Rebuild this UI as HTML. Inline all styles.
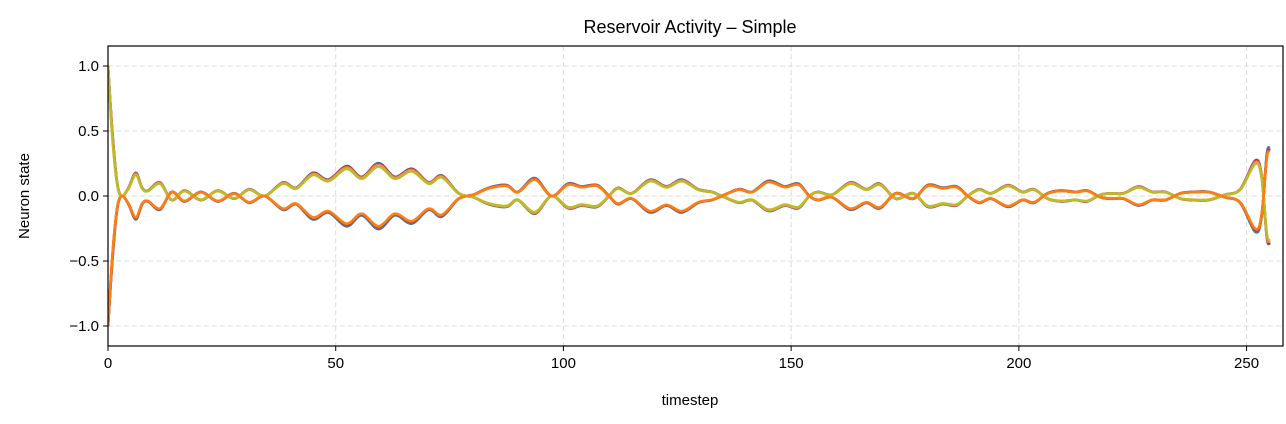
<!DOCTYPE html>
<html><head><meta charset="utf-8"><style>
html,body{margin:0;padding:0;background:#fff;}
svg{display:block;font-family:"Liberation Sans","DejaVu Sans",sans-serif;}
</style></head><body>
<svg id="chart" width="1286" height="424" viewBox="0 0 1286 424" xmlns="http://www.w3.org/2000/svg">
<text x="690" y="33" text-anchor="middle" font-size="18" fill="#000">Reservoir Activity – Simple</text>
<text x="690" y="405" text-anchor="middle" font-size="15" fill="#000">timestep</text>
<text transform="translate(29,196) rotate(-90)" text-anchor="middle" font-size="15" fill="#000">Neuron state</text>
<g id="grid"></g>
<g id="ticks"></g>
<defs><clipPath id="clip"><rect x="108" y="46" width="1175" height="300"/></clipPath></defs>
<g id="series" clip-path="url(#clip)"></g>
<rect x="108" y="46" width="1175" height="300" fill="none" stroke="#000" stroke-width="1.2"/>
</svg>
<script>
const times = [0,1,2,3,4.5,6.1,7.5,8.8,11.4,14,16.8,20.4,24.1,27.7,31,34.4,38.4,41.3,45,48.4,52.4,55.7,59.4,63,66.7,70.4,73.3,77,80.3,83.6,87.5,90,93.7,97.4,101,104,107.4,110,112,115,119,122.6,126,129.6,132.6,134.8,138.5,141.4,145,148.6,151.6,154,156,159,163,166.5,169.5,173,176.8,180,183.3,186.3,188.8,191.3,193.9,197.6,200.8,203.3,206.3,209.2,212.5,215,218,220.5,223,226.3,229.3,232.2,235.5,238.4,241.7,245.3,248.6,251.9,253.3,254.4,255];
const signal = [1.0,0.45,0.1,0.0,0.06,0.17,0.06,0.04,0.1,-0.03,0.04,-0.03,0.04,-0.02,0.05,0.0,0.1,0.06,0.17,0.12,0.22,0.14,0.24,0.14,0.2,0.1,0.15,0.02,-0.01,-0.06,-0.08,-0.03,-0.13,0.0,-0.09,-0.07,-0.08,0.0,0.06,0.02,0.12,0.07,0.12,0.05,0.03,0.0,-0.05,-0.03,-0.11,-0.07,-0.09,0.0,0.03,0.01,0.1,0.05,0.09,-0.02,0.02,-0.08,-0.06,-0.07,0.0,0.05,0.02,0.08,0.03,0.05,-0.02,-0.04,-0.03,-0.04,0.01,0.02,0.02,0.07,0.03,0.03,-0.02,-0.03,-0.03,0.01,0.05,0.26,0.15,-0.29,-0.36];
const neuronSigns = [-1,1,-1,1,-1,1,-1,1,-1,1,-1];
const neuronGains = [1.06,1.05,1.03,1.03,1.01,1.0,0.99,0.98,1.0,0.95,0.97];
const neuronColors = ["#1f77b4","#1f77b4","#9467bd","#d62728","#d62728","#ff7f0e","#e377c2","#e377c2","#8c564b","#bcbd22","#ff7f0e"];
const xTicks = [0,50,100,150,200,250];
const yTicks = [1.0,0.5,0.0,-0.5,-1.0];
const yTickLabels = ["1.0","0.5","0.0","\u22120.5","\u22121.0"];

const L=108,R=1283,T=46,B=346, XMAX=258, YMIN=-1.154, YMAX=1.154;
const xs = t => L + (t/XMAX)*(R-L);
const ys = v => B - (v-YMIN)/(YMAX-YMIN)*(B-T);
const NS="http://www.w3.org/2000/svg";
const grid=document.getElementById('grid'), ticks=document.getElementById('ticks'), series=document.getElementById('series');
function mk(tag, attrs, parent){const e=document.createElementNS(NS,tag);for(const k in attrs)e.setAttribute(k,attrs[k]);parent.appendChild(e);return e;}

xTicks.forEach(t=>{
  const x=xs(t);
  const g=mk('line',{x1:x,x2:x,y1:T,y2:B,stroke:'#dcdcdc','stroke-width':1,'stroke-dasharray':'5,3'},grid);
  
  
  const tk=mk('line',{x1:x,x2:x,y1:B,y2:B+5,stroke:'#000','stroke-width':1},ticks);
  
  
  const lb=mk('text',{x:x,y:B+22,'text-anchor':'middle','font-size':15,fill:'#000'},ticks);
  lb.textContent=String(t);
  
  
});
yTicks.forEach((v,i)=>{
  const y=ys(v);
  const g=mk('line',{x1:L,x2:R,y1:y,y2:y,stroke:'#dcdcdc','stroke-width':1,'stroke-dasharray':'5,3'},grid);
  
  
  const tk=mk('line',{x1:L-5,x2:L,y1:y,y2:y,stroke:'#000','stroke-width':1},ticks);
  
  
  const lb=mk('text',{x:L-9,y:y+5,'text-anchor':'end','font-size':15,fill:'#000'},ticks);
  lb.textContent=yTickLabels[i];
  
  
});

function smoothPath(pts){
  let d='M'+pts[0][0].toFixed(1)+','+pts[0][1].toFixed(1);
  for(let i=0;i<pts.length-1;i++){
    const p0=pts[Math.max(0,i-1)],p1=pts[i],p2=pts[i+1],p3=pts[Math.min(pts.length-1,i+2)];
    const c1=[p1[0]+(p2[0]-p0[0])/6,p1[1]+(p2[1]-p0[1])/6];
    const c2=[p2[0]-(p3[0]-p1[0])/6,p2[1]-(p3[1]-p1[1])/6];
    d+=' C'+c1[0].toFixed(1)+','+c1[1].toFixed(1)+' '+c2[0].toFixed(1)+','+c2[1].toFixed(1)+' '+p2[0].toFixed(1)+','+p2[1].toFixed(1);
  }
  return d;
}
neuronSigns.forEach((s,n)=>{
  const pts=times.map((t,i)=>{
    const v = i===0 ? s*signal[i] : s*signal[i]*neuronGains[n];
    return [xs(t), ys(v)];
  });
  const p=mk('path',{d:smoothPath(pts),fill:'none',stroke:neuronColors[n],'stroke-width':2.6,'stroke-linejoin':'round'},series);
  
  
});
</script>
</body></html>
